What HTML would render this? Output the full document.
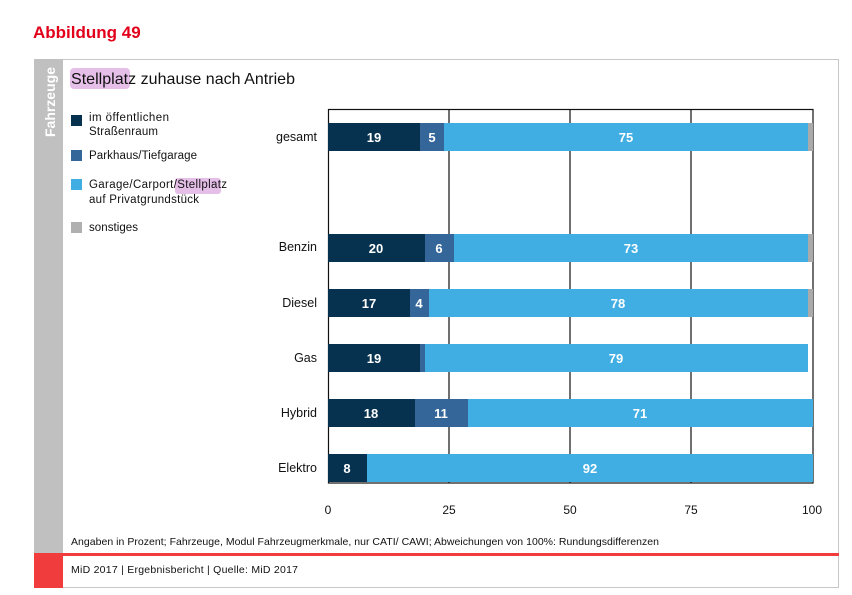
<!DOCTYPE html>
<html><head><meta charset="utf-8"><style>
body{margin:0;background:#fff;width:852px;height:590px;overflow:hidden;font-family:"Liberation Sans",sans-serif}
</style></head><body>
<svg width="852" height="590" xmlns="http://www.w3.org/2000/svg" font-family="Liberation Sans, sans-serif">
<text x="33" y="38" fill="#e2001a" font-size="17" font-weight="bold">Abbildung 49</text>
<rect x="34.5" y="59.5" width="804" height="528" fill="none" stroke="#c8c8c8"/>
<rect x="34" y="59" width="29" height="494" fill="#c0c0c0"/>
<text transform="translate(55,137) rotate(-90)" fill="#fff" font-size="14" font-weight="bold" textLength="70">Fahrzeuge</text>
<rect x="34" y="553" width="805" height="3" fill="#f03c3c"/>
<rect x="34" y="553" width="29" height="35" fill="#f03c3c"/>
<rect x="70" y="68" width="60" height="21" rx="4" fill="#e6bfe9"/>
<text x="71" y="84" font-size="16" fill="#111" textLength="224">Stellplatz zuhause nach Antrieb</text>
<g font-size="11.5" fill="#111">
<rect x="71" y="115" width="11" height="11" fill="#06324f"/><text x="89" y="121" textLength="80">im öffentlichen</text><text x="89" y="135" textLength="69">Straßenraum</text>
<rect x="71" y="150" width="11" height="11" fill="#34669a"/><text x="89" y="159" textLength="108">Parkhaus/Tiefgarage</text>
<rect x="71" y="179" width="11" height="11" fill="#40aee3"/>
<rect x="175" y="178" width="46" height="16" rx="3" fill="#e6bfe9"/>
<text x="89" y="188" textLength="138">Garage/Carport/Stellplatz</text><text x="89" y="203" textLength="110">auf Privatgrundstück</text>
<rect x="71" y="222" width="11" height="11" fill="#b0b0b0"/><text x="89" y="231" textLength="49">sonstiges</text>
</g>
<g stroke="#111" stroke-width="1.2" fill="none">
<rect x="328.5" y="109.5" width="484.5" height="373.5"/>
<line x1="449" y1="109" x2="449" y2="483"/><line x1="570" y1="109" x2="570" y2="483"/><line x1="691" y1="109" x2="691" y2="483"/>
</g>
<g font-size="12.5" fill="#111" text-anchor="end">
<text x="317" y="141">gesamt</text><text x="317" y="251">Benzin</text><text x="317" y="307">Diesel</text><text x="317" y="362">Gas</text><text x="317" y="417">Hybrid</text><text x="317" y="472">Elektro</text>
</g>
<g>
<rect x="328" y="123" width="92" height="28" fill="#06324f"/><rect x="420" y="123" width="24" height="28" fill="#34669a"/><rect x="444" y="123" width="364" height="28" fill="#40aee3"/><rect x="808" y="123" width="5" height="28" fill="#aaa"/>
<rect x="328" y="234" width="97" height="28" fill="#06324f"/><rect x="425" y="234" width="29" height="28" fill="#34669a"/><rect x="454" y="234" width="354" height="28" fill="#40aee3"/><rect x="808" y="234" width="5" height="28" fill="#aaa"/>
<rect x="328" y="289" width="82" height="28" fill="#06324f"/><rect x="410" y="289" width="19" height="28" fill="#34669a"/><rect x="429" y="289" width="379" height="28" fill="#40aee3"/><rect x="808" y="289" width="5" height="28" fill="#aaa"/>
<rect x="328" y="344" width="92" height="28" fill="#06324f"/><rect x="420" y="344" width="5" height="28" fill="#34669a"/><rect x="425" y="344" width="383" height="28" fill="#40aee3"/>
<rect x="328" y="399" width="87" height="28" fill="#06324f"/><rect x="415" y="399" width="53" height="28" fill="#34669a"/><rect x="468" y="399" width="345" height="28" fill="#40aee3"/>
<rect x="328" y="454" width="39" height="28" fill="#06324f"/><rect x="367" y="454" width="446" height="28" fill="#40aee3"/>
</g>
<g font-size="13" font-weight="bold" fill="#fff" text-anchor="middle">
<text x="374" y="142">19</text><text x="432" y="142">5</text><text x="626" y="142">75</text>
<text x="376" y="253">20</text><text x="439" y="253">6</text><text x="631" y="253">73</text>
<text x="369" y="308">17</text><text x="419" y="308">4</text><text x="618" y="308">78</text>
<text x="374" y="363">19</text><text x="616" y="363">79</text>
<text x="371" y="418">18</text><text x="441" y="418">11</text><text x="640" y="418">71</text>
<text x="347" y="473">8</text><text x="590" y="473">92</text>
</g>
<g font-size="12" fill="#111" text-anchor="middle">
<text x="328" y="514">0</text><text x="449" y="514">25</text><text x="570" y="514">50</text><text x="691" y="514">75</text><text x="812" y="514">100</text>
</g>
<text x="71" y="545" font-size="10.5" fill="#111" textLength="588">Angaben in Prozent; Fahrzeuge, Modul Fahrzeugmerkmale, nur CATI/ CAWI; Abweichungen von 100%: Rundungsdifferenzen</text>
<text x="71" y="573" font-size="10.5" fill="#111" textLength="227">MiD 2017 | Ergebnisbericht | Quelle: MiD 2017</text>
</svg>
</body></html>
